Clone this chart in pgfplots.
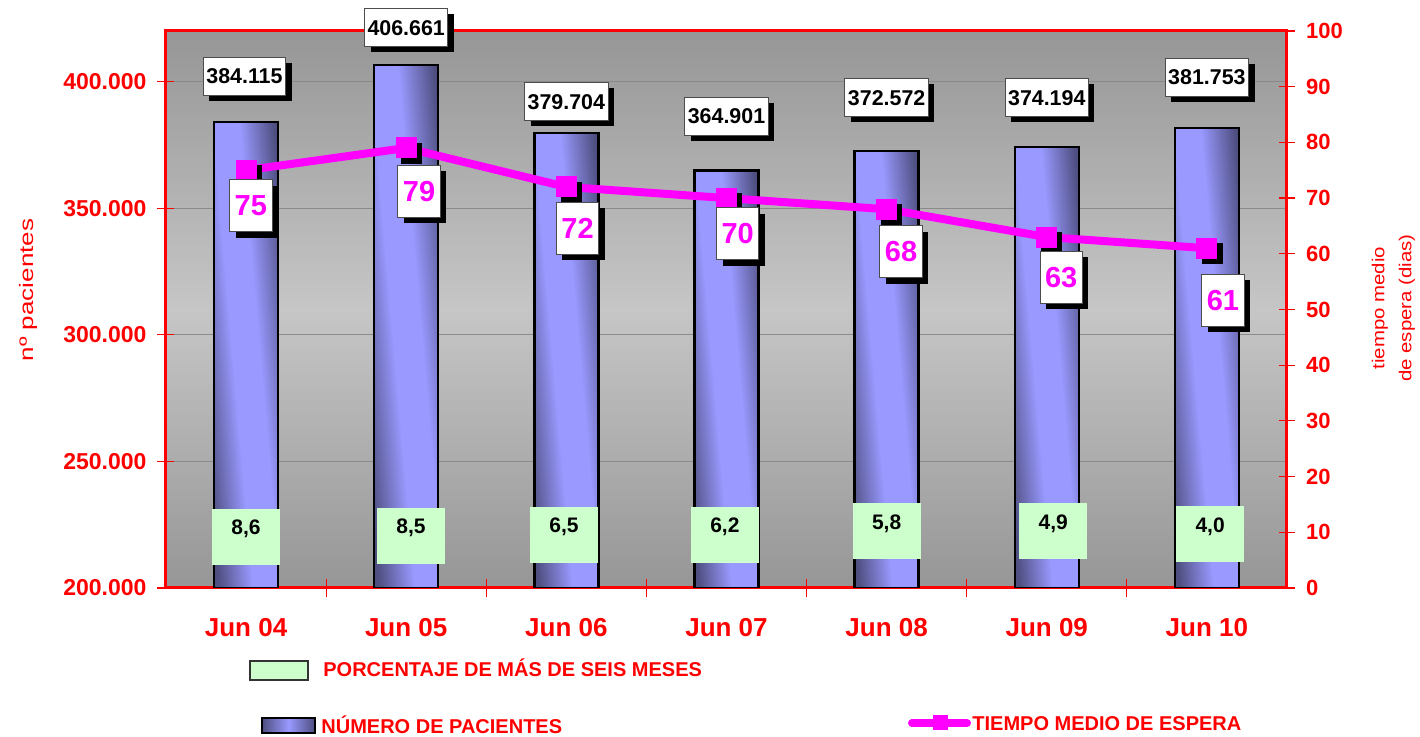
\documentclass[border=0pt]{standalone}
\usepackage{pgfplots}
\pgfplotsset{compat=1.18}
\usepackage{pgfplotstable}
\usepackage{fontspec}
\setmainfont{Liberation Sans}
\usetikzlibrary{shadows}

\definecolor{axred}{RGB}{255,0,0}
\definecolor{barlight}{RGB}{153,153,255}
\definecolor{bardark}{RGB}{78,78,128}
\definecolor{mag}{RGB}{255,0,255}
\definecolor{boxgreen}{RGB}{204,255,204}
\definecolor{bgdark}{RGB}{150,150,150}
\definecolor{bglight}{RGB}{198,198,198}
\definecolor{gridc}{RGB}{138,138,138}

\pgfdeclarehorizontalshading{barshade}{100bp}{color(0bp)=(bardark); color(25bp)=(bardark);
  color(43bp)=(barlight); color(57bp)=(barlight); color(75bp)=(bardark); color(100bp)=(bardark)}

\pgfplotstableread{
x y
0 384115
1 406661
2 379704
3 364901
4 372572
5 374194
6 381753
}\pacientes

% label positions (right-axis units) and texts for the bar values
\pgfplotstableread{
x y label
-0.01 91.9 384.115
1.0 100.6 406.661
2 87.3 379.704
3 84.7 364.901
4 88.0 372.572
5 88.0 374.194
6 91.7 381.753
}\pacLabels

\pgfplotstableread{
x y
0 75
1 79
2 72
3 70
4 68
5 63
6 61
}\tiempo

\pgfplotstableread{
x y label
0.03 68.6 75
1.08 71.2 79
2.07 64.6 72
3.07 63.6 70
4.09 60.4 68
5.09 55.8 63
6.10 51.7 61
}\tiempoLabels

\pgfplotstableread{
x y label
0 9.16 8,6
1.03 9.34 8,5
1.985 9.52 6,5
2.99 9.6 6,2
4.0 10.23 5,8
5.04 10.23 4,9
6.02 9.69 4,0
}\porcentaje

\pgfplotsset{barstyle/.style={ybar, bar width=32pt, bar shift=0pt, draw=black, line width=1.2pt,
  shade, shading=barshade, shading angle=5}}

\begin{document}
\begin{tikzpicture}
\begin{axis}[
  name=ax,
  scale only axis, width=560.5pt, height=278.5pt,
  xmin=-0.5, xmax=6.5, ymin=200000, ymax=420000,
  axis background/.style={top color=bgdark, bottom color=bgdark, middle color=bglight},
  axis line style={axred, line width=1.5pt},
  tick align=center,
  xtick={0,...,6},
  xticklabels={Jun 04,Jun 05,Jun 06,Jun 07,Jun 08,Jun 09,Jun 10},
  major x tick style={draw=none},
  minor xtick={0.5,1.5,...,5.5},
  minor tick length=9pt,
  major tick length=8.5pt,
  tick style={axred, line width=0.6pt},
  minor x tick style={axred, line width=0.6pt},
  xtick pos=bottom, ytick pos=left,
  ytick={200000,250000,300000,350000,400000},
  yticklabels={200.000,250.000,300.000,350.000,400.000},
  scaled y ticks=false,
  ymajorgrids,
  major grid style={gridc, line width=0.5pt},
  xticklabel style={font=\bfseries\fontsize{13}{15}\selectfont, text=axred, yshift=-7.5pt},
  yticklabel style={font=\bfseries\fontsize{11.5}{13}\selectfont, text=axred, xshift=-2pt},
]
% one bar per plot so that each bar gets its own shading
\addplot[barstyle, restrict x to domain=-0.2:0.2] table[x=x,y=y]{\pacientes};
\addplot[barstyle, restrict x to domain=0.8:1.2] table[x=x,y=y]{\pacientes};
\addplot[barstyle, restrict x to domain=1.8:2.2] table[x=x,y=y]{\pacientes};
\addplot[barstyle, restrict x to domain=2.8:3.2] table[x=x,y=y]{\pacientes};
\addplot[barstyle, restrict x to domain=3.8:4.2] table[x=x,y=y]{\pacientes};
\addplot[barstyle, restrict x to domain=4.8:5.2] table[x=x,y=y]{\pacientes};
\addplot[barstyle, restrict x to domain=5.8:6.2] table[x=x,y=y]{\pacientes};
\end{axis}

\begin{axis}[
  scale only axis, width=560.5pt, height=278.5pt,
  at={(ax.south west)}, anchor=south west,
  xmin=-0.5, xmax=6.5, ymin=0, ymax=100,
  axis x line=none, axis y line*=right,
  axis line style={axred, line width=1.5pt},
  ytick={0,10,...,100},
  tick align=center, major tick length=8pt,
  tick style={axred, line width=0.6pt},
  /pgf/number format/assume math mode=true,
  yticklabel style={font=\bfseries\fontsize{11}{13}\selectfont, text=axred, xshift=2pt},
  clip=false,
]
% green percentage boxes
\addplot[draw=none, nodes near coords, point meta=explicit symbolic,
  every node near coord/.append style={anchor=center, fill=boxgreen, text=black,
    font=\bfseries\fontsize{10.5}{12}\selectfont, minimum width=34pt,
    text height=7.5pt, text depth=9.5pt, inner ysep=5.5pt}]
  table[x=x,y=y,meta=label]{\porcentaje};
% marker shadows
\addplot[only marks, mark=square*, mark size=5pt,
  mark options={fill=black, draw=black, xshift=2.5pt, yshift=-2.5pt}]
  table[x=x,y=y]{\tiempo};
% line
\addplot[mag, line width=4pt, mark=square*, mark size=5pt,
  mark options={fill=mag, draw=mag, line width=0pt}]
  table[x=x,y=y]{\tiempo};
% line labels
\addplot[draw=none, nodes near coords, point meta=explicit symbolic,
  every node near coord/.append style={anchor=center, fill=white, draw=gray!60!black,
    line width=0.5pt, text=mag, font=\bfseries\fontsize{14.5}{16}\selectfont,
    minimum height=26pt, inner xsep=2.5pt,
    drop shadow={shadow xshift=3pt, shadow yshift=-3pt, fill=black, opacity=1}}]
  table[x=x,y=y,meta=label]{\tiempoLabels};
% bar value labels
\addplot[draw=none, nodes near coords, point meta=explicit symbolic,
  every node near coord/.append style={anchor=center, fill=white, draw=gray!60!black,
    line width=0.5pt, text=black, font=\bfseries\fontsize{10.7}{12}\selectfont,
    minimum height=19pt, inner xsep=1.5pt,
    drop shadow={shadow xshift=3pt, shadow yshift=-2.8pt, fill=black, opacity=1}}]
  table[x=x,y=y,meta=label]{\pacLabels};
\end{axis}

\begin{scope}[shift={(ax.south west)}]
  % y labels
  \node[rotate=90, text=axred, font=\fontsize{13}{15}\selectfont] at (-69pt,149pt)
    {\scalebox{1}[0.75]{nº pacientes}};
  \node[rotate=90, text=axred, align=center, font=\fontsize{10.2}{13.5}\selectfont] at (613.75pt,140pt)
    {\scalebox{1}[0.85]{tiempo medio}\\\scalebox{1}[0.85]{de espera (dias)}};
  % legend
  \filldraw[fill=boxgreen, draw=black!80, line width=0.8pt] (42pt,-36.5pt) rectangle (71pt,-46pt);
  \node[anchor=west, inner sep=0pt, text=axred, font=\bfseries\fontsize{10}{12}\selectfont] at (78.5pt,-40pt)
    {PORCENTAJE DE MÁS DE SEIS MESES};
  \shade[left color=bardark, right color=bardark, middle color=barlight] (48pt,-65pt) rectangle (74.5pt,-72.5pt);
  \draw[black, line width=1pt] (48pt,-65pt) rectangle (74.5pt,-72.5pt);
  \node[anchor=west, inner sep=0pt, text=axred, font=\bfseries\fontsize{10}{12}\selectfont] at (77.5pt,-68.5pt)
    {NÚMERO DE PACIENTES};
  \draw[mag, line width=4pt, line cap=round] (373pt,-67.5pt) -- (400.5pt,-67.5pt);
  \fill[mag] (383.5pt,-63.75pt) rectangle (391pt,-71.25pt);
  \node[anchor=west, inner sep=0pt, text=axred, font=\bfseries\fontsize{10}{12}\selectfont] at (403pt,-68pt)
    {TIEMPO MEDIO DE ESPERA};
\end{scope}

\pgfresetboundingbox
\path (ax.south west) ++(-83pt,-74.5pt) rectangle ++(710pt,368.5pt);
\end{tikzpicture}
\end{document}
